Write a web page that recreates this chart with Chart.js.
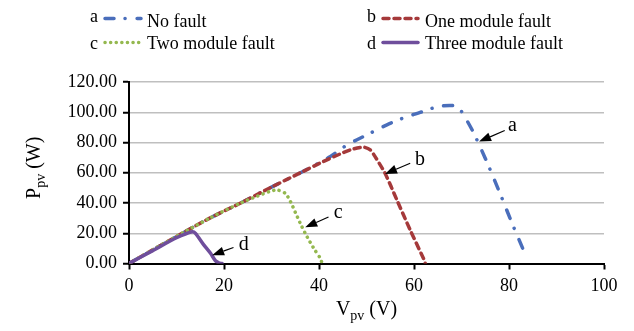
<!DOCTYPE html>
<html>
<head>
<meta charset="utf-8">
<script src="https://cdn.jsdelivr.net/npm/chart.js@4.4.0/dist/chart.umd.min.js"></script>
<style>
  html, body { margin: 0; padding: 0; background: #fff; }
  #wrap { position: relative; width: 634px; height: 331px; }
</style>
</head>
<body>
<div id="wrap"><canvas id="pvChart"></canvas></div>
<script>
// P-V curves (voltage V, power W) for the PV string under module faults
const noFault = [
  [0, 0], [5, 9], [11.2, 20], [17, 30], [23.5, 40], [30, 50.5], [36.1, 60],
  [42, 70], [45.9, 78.4], [48, 81.8], [51, 86.5], [54.3, 91.7], [58, 96.5],
  [61.3, 99.9], [64, 102.8], [66, 104.2], [67.9, 104.5], [69, 103.5],
  [70, 100.5], [72.4, 87.3], [75.3, 67.4], [78.1, 46.4], [80.8, 25.4], [83.3, 7]
];
const oneModuleFault = [
  [0, 0], [5, 9], [11.2, 20], [17, 30], [23.5, 40], [30, 50.5], [36.1, 60],
  [40.3, 66.5], [44.5, 72.5], [47, 75.5], [49.4, 76.9], [50.8, 75.1],
  [51.8, 70.7], [53.9, 59.7], [56.4, 42], [59.2, 22.1], [62, 3.3], [62.4, 0]
];
const twoModuleFault = [
  [0, 0], [5, 9], [11.2, 20], [17, 30], [23.5, 40], [27, 44.5], [29.5, 47.5],
  [31.2, 48.6], [32.9, 46.4], [34, 40.9], [35.2, 32.5], [36.4, 24.3],
  [37.5, 17.6], [39, 9.5], [40.3, 3.3], [40.6, 0.5]
];
const threeModuleFault = [
  [0, 0], [5, 8.5], [10, 17], [13.3, 21], [14, 19.9], [15.7, 12.5],
  [17.2, 6.6], [18.2, 1.8], [19, 0.3], [19.6, 0]
];

const seriesNames = ['No fault', 'One module fault', 'Two module fault', 'Three module fault'];
const seriesLetters = ['a', 'b', 'c', 'd'];

// arrow callouts: tip on the curve, tail, and where the letter sits (data units)
const callouts = [
  { letter: 'a', tip: [73.7, 80.6], tail: [79.1, 87.9], text: [79.8, 87.3] },
  { letter: 'b', tip: [53.9, 59.2], tail: [59.2, 66.3], text: [60.2, 65.2] },
  { letter: 'c', tip: [37.1, 23.9], tail: [42.0, 30.7], text: [43.1, 29.8] },
  { letter: 'd', tip: [17.5, 5.5], tail: [22.0, 10.6], text: [23.1, 8.8] }
];

const serif = '"Liberation Serif", "Times New Roman", serif';
const toPoints = arr => arr.map(p => ({ x: p[0], y: p[1] }));

const datasets = [
  {
    label: seriesNames[0], data: toPoints(noFault),
    borderColor: '#4a6ebb', borderWidth: 3.5,
    borderDash: [9, 11, 0.1, 12], borderCapStyle: 'round', order: 4
  },
  {
    label: seriesNames[1], data: toPoints(oneModuleFault),
    borderColor: '#a5393a', borderWidth: 3.5,
    borderDash: [6, 5], borderCapStyle: 'round', order: 3
  },
  {
    label: seriesNames[2], data: toPoints(twoModuleFault),
    borderColor: '#94b84f', borderWidth: 3.5,
    borderDash: [0.1, 5.5], borderCapStyle: 'round', order: 2
  },
  {
    label: seriesNames[3], data: toPoints(threeModuleFault),
    borderColor: '#6f4e9c', borderWidth: 3.5,
    borderDash: [], borderCapStyle: 'round', order: 1
  }
].map(ds => Object.assign(ds, {
  showLine: true, fill: false, tension: 0.25, pointRadius: 0,
  borderJoinStyle: 'round'
}));

// legend layout: [letter x, sample start, sample end, text x] per column
const legendCols = [
  { letterX: 90, lineX1: 105, lineX2: 141, textX: 147 },
  { letterX: 367, lineX1: 383, lineX2: 418, textX: 425 }
];
const legendRows = [
  { letterY: 22, lineY: 18.5, textY: 26.7 },
  { letterY: 48.5, lineY: 42.5, textY: 49.3 }
];

const legendPlugin = {
  id: 'faultLegend',
  afterDraw(chart) {
    const ctx = chart.ctx;
    ctx.save();
    ctx.fillStyle = '#000';
    ctx.font = '18px ' + serif;
    ctx.textBaseline = 'alphabetic';
    chart.data.datasets.forEach((ds, i) => {
      const col = legendCols[i % 2];
      const row = legendRows[Math.floor(i / 2)];
      ctx.fillText(seriesLetters[i], col.letterX, row.letterY);
      ctx.fillText(seriesNames[i], col.textX, row.textY);
      ctx.save();
      ctx.strokeStyle = ds.borderColor;
      ctx.lineWidth = ds.borderWidth;
      ctx.lineCap = ds.borderCapStyle;
      ctx.setLineDash(ds.borderDash);
      ctx.beginPath();
      ctx.moveTo(col.lineX1, row.lineY);
      ctx.lineTo(col.lineX2, row.lineY);
      ctx.stroke();
      ctx.restore();
    });
    ctx.restore();
  }
};

const calloutPlugin = {
  id: 'callouts',
  afterDatasetsDraw(chart) {
    const ctx = chart.ctx;
    const xs = chart.scales.x, ys = chart.scales.y;
    ctx.save();
    callouts.forEach(c => {
      const tx = xs.getPixelForValue(c.tip[0]), ty = ys.getPixelForValue(c.tip[1]);
      const sx = xs.getPixelForValue(c.tail[0]), sy = ys.getPixelForValue(c.tail[1]);
      const ang = Math.atan2(ty - sy, tx - sx);
      const headLen = 12, headHalf = 4.5;
      const bx = tx - headLen * Math.cos(ang), by = ty - headLen * Math.sin(ang);
      ctx.strokeStyle = '#000';
      ctx.lineWidth = 1.2;
      ctx.beginPath();
      ctx.moveTo(sx, sy);
      ctx.lineTo(bx, by);
      ctx.stroke();
      ctx.fillStyle = '#000';
      ctx.beginPath();
      ctx.moveTo(tx, ty);
      ctx.lineTo(bx + headHalf * Math.sin(ang), by - headHalf * Math.cos(ang));
      ctx.lineTo(bx - headHalf * Math.sin(ang), by + headHalf * Math.cos(ang));
      ctx.closePath();
      ctx.fill();
      ctx.font = '20px ' + serif;
      ctx.textBaseline = 'alphabetic';
      ctx.fillText(c.letter, xs.getPixelForValue(c.text[0]), ys.getPixelForValue(c.text[1]));
    });
    ctx.restore();
  }
};

// axis titles with subscripts: runs of [text, font size, baseline shift]
function drawRuns(ctx, runs) {
  let total = 0;
  runs.forEach(r => {
    ctx.font = r[1] + 'px ' + serif;
    r.w = ctx.measureText(r[0]).width;
    total += r.w;
  });
  let x = -total / 2;
  runs.forEach(r => {
    ctx.font = r[1] + 'px ' + serif;
    ctx.fillText(r[0], x, r[2]);
    x += r.w;
  });
}

const axisTitlePlugin = {
  id: 'axisTitles',
  afterDraw(chart) {
    const ctx = chart.ctx;
    const area = chart.chartArea;
    ctx.save();
    ctx.fillStyle = '#000';
    ctx.textBaseline = 'alphabetic';
    ctx.save();
    ctx.translate((area.left + area.right) / 2, 315);
    drawRuns(ctx, [['V', 20, 0], ['pv', 14, 5], [' (V)', 20, 0]]);
    ctx.restore();
    ctx.save();
    ctx.translate(40, (area.top + area.bottom) / 2 - 5);
    ctx.rotate(-Math.PI / 2);
    drawRuns(ctx, [['P', 20, 0], ['pv', 14, 5], [' (W)', 20, 0]]);
    ctx.restore();
    ctx.restore();
  }
};

new Chart(document.getElementById('pvChart'), {
  type: 'scatter',
  data: { datasets: datasets },
  options: {
    responsive: true,
    maintainAspectRatio: false,
    animation: false,
    layout: { padding: { top: 82, right: 30, left: 0, bottom: 0 } },
    plugins: {
      legend: { display: false },
      tooltip: { enabled: false }
    },
    scales: {
      x: {
        type: 'linear', min: 0, max: 100,
        afterFit: s => { s.height = 67.5; },
        ticks: { stepSize: 20, color: '#000', padding: 6, font: { family: serif, size: 18 } },
        grid: { drawOnChartArea: false, drawTicks: true, tickLength: 6, tickColor: '#000', tickWidth: 2 },
        border: { color: '#000', width: 2 }
      },
      y: {
        type: 'linear', min: 0, max: 120,
        afterFit: s => { s.width = 129; },
        ticks: {
          stepSize: 20, color: '#000', padding: 6,
          font: { family: serif, size: 18 },
          callback: v => v.toFixed(2)
        },
        grid: { color: '#bfbfbf', lineWidth: 1.5, drawTicks: true, tickLength: 6, tickColor: '#000', tickWidth: 2 },
        border: { color: '#000', width: 2 }
      }
    }
  },
  plugins: [legendPlugin, calloutPlugin, axisTitlePlugin]
});
</script>
</body>
</html>
